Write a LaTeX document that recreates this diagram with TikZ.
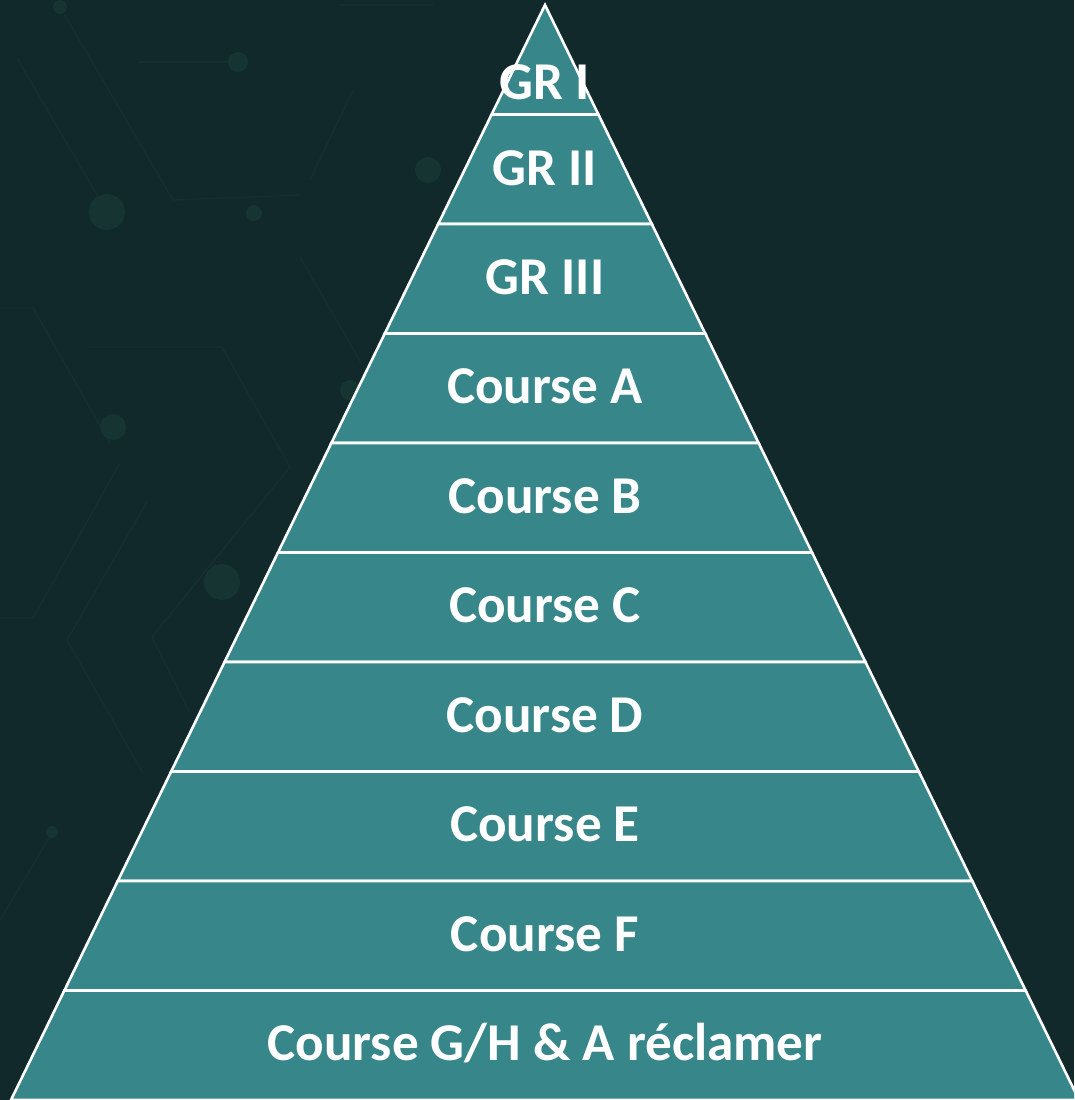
\documentclass[tikz,border=0pt]{standalone}
\usepackage{fontspec}
\setmainfont{Carlito}
\definecolor{bgc}{HTML}{12292B}
\definecolor{teal}{HTML}{37868A}
\definecolor{patl}{HTML}{152F30}
\definecolor{patd}{HTML}{153432}
\begin{document}
\begin{tikzpicture}[x=1pt,y=-1pt,
  lab/.style={font=\fontsize{53.2}{56}\selectfont\bfseries, text=white, anchor=base, inner sep=0pt},
  band/.style={fill=teal, draw=white, line width=2.6pt, line join=miter},
  pat/.style={draw=patl, line width=1.3pt},
  dot/.style={fill=patd}]
\useasboundingbox (0,0) rectangle (1074,1100);
\clip (0,0) rectangle (1074,1100);
\fill[bgc] (0,0) rectangle (1074,1100);
% faint circuit pattern
\draw[pat] (60,7) -- (173,200) -- (300,195);
\draw[pat] (138,62) -- (238,62);
\draw[pat] (17,58) -- (100,200);
\draw[pat] (0,308) -- (33,308) -- (110,443);
\draw[pat] (87,347) -- (222,347) -- (280,450);
\draw[pat] (300,257) -- (367,373);
\draw[pat] (353,90) -- (310,180);
\draw[pat] (340,5) -- (433,5);
\draw[pat] (120,463) -- (33,618) -- (0,618);
\draw[pat] (147,502) -- (67,640) -- (143,773);
\draw[pat] (277,443) -- (290,467) -- (152,637) -- (190,713);
\draw[pat] (52,833) -- (0,920);
\fill[dot] (238,62) circle (10);
\fill[dot] (107,212) circle (18);
\fill[dot] (428,170) circle (13);
\fill[dot] (254,213) circle (8);
\fill[dot] (113,427) circle (13);
\fill[dot] (350,390) circle (10);
\fill[dot] (222,582) circle (18);
\fill[dot] (52,832) circle (6);
\fill[dot] (60,7) circle (7);
% pyramid
\coordinate (apex) at (545,5);
\foreach \i in {1,...,10}{
  \pgfmathsetmacro{\ya}{5+109.5*(\i-1)}
  \pgfmathsetmacro{\yb}{5+109.5*\i}
  \pgfmathsetmacro{\wa}{0.4877*(\ya-5)}
  \pgfmathsetmacro{\wb}{0.4877*(\yb-5)}
  \draw[band] (545-\wa,\ya) -- (545+\wa,\ya) -- (545+\wb,\yb) -- (545-\wb,\yb) -- cycle;
}
\node[lab] (l1) at (545,99) {GR I};
\node[lab] (l2) at (545,185) {GR II};
\node[lab] (l3) at (545,294) {GR III};
\node[lab] (l4) at (545,403) {Course A};
\node[lab] (l5) at (545,513) {Course B};
\node[lab] (l6) at (545,622) {Course C};
\node[lab] (l7) at (545,732) {Course D};
\node[lab] (l8) at (545,841) {Course E};
\node[lab] (l9) at (545,951) {Course F};
\node[lab] (l10) at (545,1060) {Course G/H \& A réclamer};
\end{tikzpicture}
\end{document}
